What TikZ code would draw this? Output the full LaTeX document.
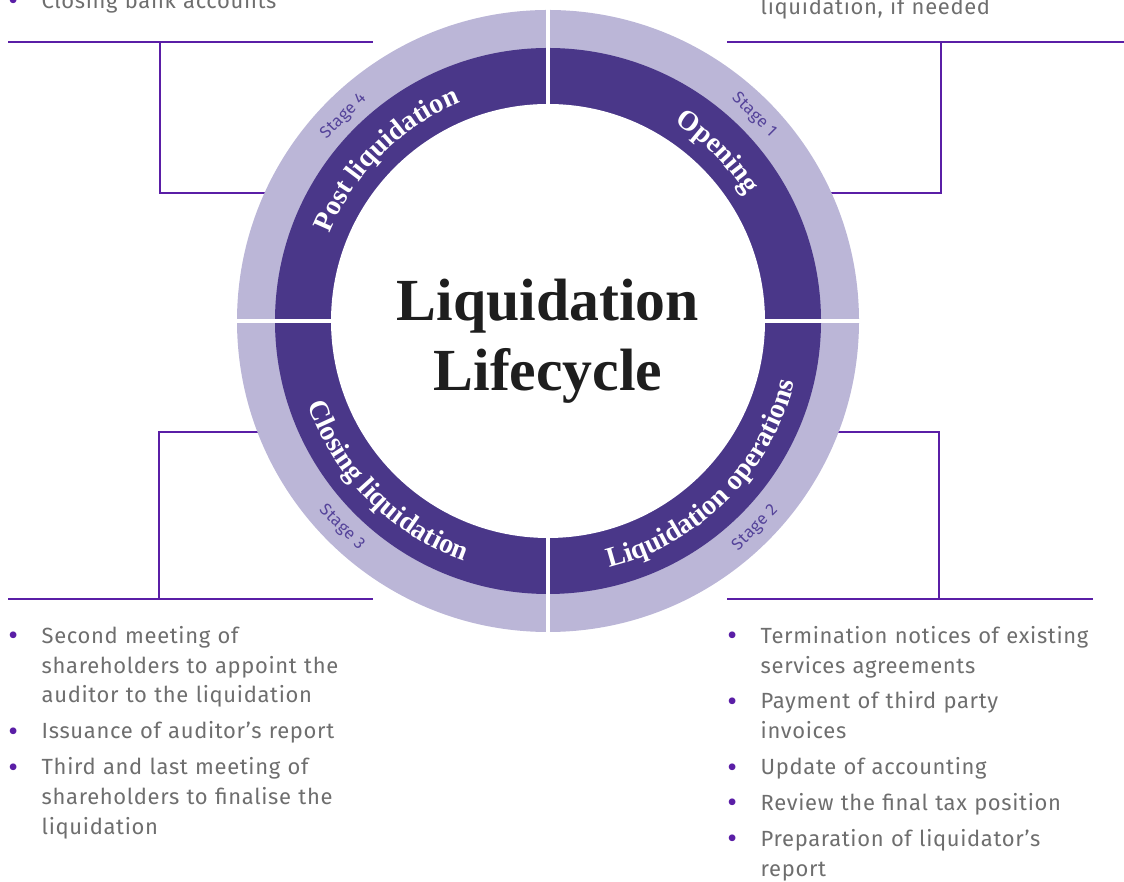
\documentclass[tikz,border=0pt]{standalone}
\usepackage{fontspec}
\usepackage{xcolor}
\usetikzlibrary{positioning,decorations.text}
\setmainfont{Liberation Serif}
\newfontfamily\bodyfont[LetterSpace=3]{Fira Sans}

\definecolor{ringdark}{HTML}{4A3789}
\definecolor{ringlight}{HTML}{BBB6D7}
\definecolor{linkviolet}{HTML}{5A1EA6}
\definecolor{stageviolet}{HTML}{55449A}
\definecolor{listgray}{HTML}{6E6E6E}
\definecolor{titleblack}{HTML}{1E1E1E}

\newcommand{\bitem}[1]{\par\hangindent=19pt\hangafter=1\noindent
  \makebox[19pt][l]{\textcolor{linkviolet}{\raisebox{-1.4pt}{\fontsize{17}{17}\selectfont\textbullet}}}#1\par\vspace{3.4pt}}

\begin{document}
\begin{tikzpicture}[x=0.02cm, y=0.02cm]
  \tikzset{
    bracket/.style={draw=linkviolet, line width=1.4pt},
    gapline/.style={draw=white, line width=2.5pt},
    titletext/.style={font=\bfseries\fontsize{34}{40}\selectfont, text=titleblack, inner sep=0pt},
    stagetext/.style={font=\bodyfont\fontsize{9.5}{11}\selectfont, text=stageviolet, inner sep=0pt},
    itemlist/.style={anchor=north west, inner sep=0pt, text width=230pt, align=left, text=listgray, font=\bodyfont\fontsize{12.5}{17}\selectfont},
    ringlabel/.style={decorate, decoration={text along path, text align=center, text={|\color{white}\bfseries\fontsize{16}{18}\selectfont|#1}}}
  }
  \useasboundingbox (0,0) rectangle (1124,881);
  \clip (0,0) rectangle (1124,881);

  \coordinate (c) at (548,560);

  \coordinate (post-a) at (8,839);
  \coordinate (post-b) at (373,839);
  \coordinate (post-top) at (160,839);
  \coordinate (post-knee) at (160,688);
  \coordinate (post-ring) at (285,688);
  \coordinate (open-a) at (727,839);
  \coordinate (open-b) at (1124,839);
  \coordinate (open-top) at (941,839);
  \coordinate (open-knee) at (941,688);
  \coordinate (open-ring) at (815,688);
  \coordinate (close-a) at (8,282);
  \coordinate (close-b) at (373,282);
  \coordinate (close-bot) at (159,282);
  \coordinate (close-knee) at (159,449);
  \coordinate (close-ring) at (280,449);
  \coordinate (ops-a) at (727,282);
  \coordinate (ops-b) at (1093,282);
  \coordinate (ops-bot) at (939,282);
  \coordinate (ops-knee) at (939,449);
  \coordinate (ops-ring) at (820,449);

  \draw[bracket] (post-a) -- (post-b);
  \draw[bracket] (post-top) -- (post-knee) -- (post-ring);
  \draw[bracket] (open-a) -- (open-b);
  \draw[bracket] (open-top) -- (open-knee) -- (open-ring);
  \draw[bracket] (close-a) -- (close-b);
  \draw[bracket] (close-bot) -- (close-knee) -- (close-ring);
  \draw[bracket] (ops-a) -- (ops-b);
  \draw[bracket] (ops-bot) -- (ops-knee) -- (ops-ring);

  \fill[ringlight] (c) circle (311);
  \fill[ringdark] (c) circle (273);
  \fill[white] (c) circle (217);
  \foreach \a in {0,90,180,270}
    \draw[gapline] ([shift={(\a:210)}]c) -- ([shift={(\a:316)}]c);

  \path[ringlabel=Opening] ([shift={(90:235)}]c) arc[start angle=90, end angle=0, radius=235];
  \path[ringlabel=Post liquidation] ([shift={(180:235)}]c) arc[start angle=180, end angle=90, radius=235];
  \path[ringlabel=Liquidation operations] ([shift={(-90:254)}]c) arc[start angle=-90, end angle=0, radius=254];
  \path[ringlabel=Closing liquidation] ([shift={(180:254)}]c) arc[start angle=180, end angle=270, radius=254];

  \node[stagetext, rotate=-45] (stage1) at ([shift={(45:291)}]c) {Stage 1};
  \node[stagetext, rotate=45] (stage2) at ([shift={(-45:293)}]c) {Stage 2};
  \node[stagetext, rotate=-45] (stage3) at ([shift={(-135:292)}]c) {Stage 3};
  \node[stagetext, rotate=45] (stage4) at ([shift={(135:289)}]c) {Stage 4};

  \node[titletext, anchor=base] (title1) at (c) {Liquidation};
  \node[titletext, anchor=base] (title2) at ([shift={(0,-70)}]c) {Lifecycle};

  \node[itemlist] (post-list) at (8,903) {\bitem{Closing bank accounts}};
  \node[itemlist] (open-list) at (727,884) {\hspace*{19pt}liquidation, if needed};
  \node[itemlist] (close-list) at (8,268) {%
    \bitem{Second meeting of\newline shareholders to appoint the\newline auditor to the liquidation}%
    \bitem{Issuance of auditor’s report}%
    \bitem{Third and last meeting of\newline shareholders to finalise the\newline liquidation}};
  \node[itemlist] (ops-list) at (727,268) {%
    \bitem{Termination notices of existing\newline services agreements}%
    \bitem{Payment of third party\newline invoices}%
    \bitem{Update of accounting}%
    \bitem{Review the final tax position}%
    \bitem{Preparation of liquidator’s\newline report}};
\end{tikzpicture}
\end{document}
